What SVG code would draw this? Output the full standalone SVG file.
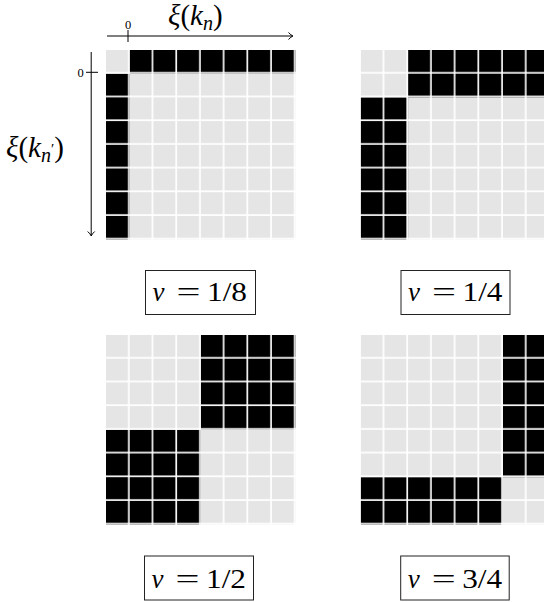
<svg xmlns="http://www.w3.org/2000/svg" width="544" height="602" viewBox="0 0 544 602">
<style>
.t{font-family:"Liberation Serif","DejaVu Serif",serif;fill:#000}
.i{font-style:italic}
.lab{font-size:27px}
.ax{font-size:29px}
.sm{font-size:12.5px}
.box{fill:#fff;stroke:#222;stroke-width:1}
.ln{fill:none;stroke:#000;stroke-width:1}
</style>
<defs>
<pattern id="pg" width="23.7" height="23.7" patternUnits="userSpaceOnUse"><rect width="22" height="22" fill="#e5e5e5"/></pattern>
<pattern id="pb" width="23.7" height="23.7" patternUnits="userSpaceOnUse"><rect width="22" height="22" fill="#000"/></pattern>
</defs>
<rect width="544" height="602" fill="#fff"/>

<g id="connectors">
<line class="ln" x1="107" y1="36" x2="292" y2="36"/>
<path class="ln" d="M288.5,32.5 Q291,35.3 293,36 Q291,36.7 288.5,39.5"/>
<line class="ln" x1="128" y1="30" x2="128" y2="42"/>
<line class="ln" x1="91.2" y1="52" x2="91.2" y2="235"/>
<path class="ln" d="M87.7,231.5 Q90.5,234 91.2,236 Q91.9,234 94.7,231.5"/>
<line class="ln" x1="86" y1="72.3" x2="98" y2="72.3"/>
</g>

<g id="axis-labels">
<text class="t sm" x="128" y="29" text-anchor="middle">0</text>
<text class="t sm" x="80.5" y="77" text-anchor="middle">0</text>
<text class="t ax" x="168" y="25"><tspan class="i">ξ</tspan>(<tspan class="i">k</tspan><tspan class="i" font-size="20" dy="5">n</tspan><tspan dy="-5">)</tspan></text>
<text class="t ax" x="6" y="157"><tspan class="i">ξ</tspan>(<tspan class="i">k</tspan><tspan class="i" font-size="20" dy="5">n</tspan><tspan font-size="15" dy="-8">′</tspan><tspan dy="3">)</tspan></text>
</g>

<g id="panel-1-8" transform="translate(106,50)">
<rect width="189.6" height="189.6" fill="url(#pg)"/>
<rect x="23.7" y="0" width="165.9" height="23.7" fill="url(#pb)"/>
<rect x="0" y="23.7" width="23.7" height="165.9" fill="url(#pb)"/>
</g>

<g id="panel-1-4" transform="translate(360.7,50)">
<rect width="189.6" height="189.6" fill="url(#pg)"/>
<rect x="47.4" y="0" width="142.2" height="47.4" fill="url(#pb)"/>
<rect x="0" y="47.4" width="47.4" height="142.2" fill="url(#pb)"/>
</g>

<g id="panel-1-2" transform="translate(106,335)">
<rect width="189.6" height="189.6" fill="url(#pg)"/>
<rect x="94.8" y="0" width="94.8" height="94.8" fill="url(#pb)"/>
<rect x="0" y="94.8" width="94.8" height="94.8" fill="url(#pb)"/>
</g>

<g id="panel-3-4" transform="translate(360.7,335)">
<rect width="189.6" height="189.6" fill="url(#pg)"/>
<rect x="142.2" y="0" width="47.4" height="142.2" fill="url(#pb)"/>
<rect x="0" y="142.2" width="142.2" height="47.4" fill="url(#pb)"/>
</g>

<g id="label-1-8" transform="translate(145.5,270.5)">
<rect class="box" width="110" height="44"/>
<text class="t lab i" x="7" y="30.5">ν</text>
<text class="t lab" x="31" y="30.5" textLength="24" lengthAdjust="spacingAndGlyphs">=</text>
<text class="t lab" x="61.5" y="30.5" textLength="40" lengthAdjust="spacingAndGlyphs">1/8</text>
</g>
<g id="label-1-4" transform="translate(401,270.5)">
<rect class="box" width="109" height="44"/>
<text class="t lab i" x="7" y="30.5">ν</text>
<text class="t lab" x="31" y="30.5" textLength="24" lengthAdjust="spacingAndGlyphs">=</text>
<text class="t lab" x="61.5" y="30.5" textLength="40" lengthAdjust="spacingAndGlyphs">1/4</text>
</g>
<g id="label-1-2" transform="translate(144.5,556)">
<rect class="box" width="109" height="44"/>
<text class="t lab i" x="7" y="31.5">ν</text>
<text class="t lab" x="31" y="31.5" textLength="24" lengthAdjust="spacingAndGlyphs">=</text>
<text class="t lab" x="61.5" y="31.5" textLength="40" lengthAdjust="spacingAndGlyphs">1/2</text>
</g>
<g id="label-3-4" transform="translate(400.7,556)">
<rect class="box" width="108.5" height="44"/>
<text class="t lab i" x="7" y="31.5">ν</text>
<text class="t lab" x="31" y="31.5" textLength="24" lengthAdjust="spacingAndGlyphs">=</text>
<text class="t lab" x="61.5" y="31.5" textLength="40" lengthAdjust="spacingAndGlyphs">3/4</text>
</g>
</svg>
